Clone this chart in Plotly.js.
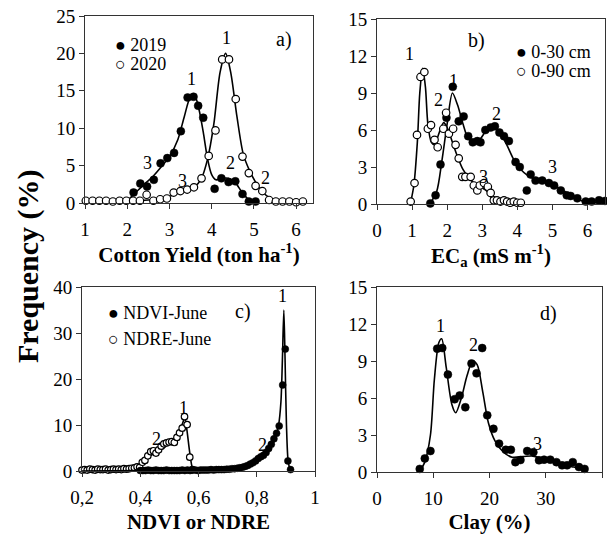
<!DOCTYPE html>
<html>
<head>
<meta charset="utf-8">
<script src="https://cdn.plot.ly/plotly-3.0.1.min.js"></script>
<style>html,body{margin:0;padding:0;background:#fff;}#chart{width:607px;height:534px;}</style>
</head>
<body>
<div id="chart"></div>
<script>
// ---------- Panel a: Cotton yield ----------
const yield2019X = [2.15,2.31,2.47,2.63,2.79,2.95,3.11,3.27,3.43,3.57,3.68,3.80,4.07,4.23,4.40,4.56,4.73,4.88,5.04];
const yield2019Y = [1.4,2.6,2.2,3.1,5.3,6.0,6.7,9.6,14.1,14.2,13.0,11.4,1.9,3.3,2.8,2.9,1.2,0.2,0.2];
const yield2020X = [1.02,1.18,1.34,1.50,1.66,1.82,1.98,2.14,2.30,2.46,2.62,2.78,2.94,3.10,3.26,3.42,3.58,3.76,3.93,4.09,4.25,4.41,4.57,4.73,4.88,5.04,5.20,5.36,5.52,5.68,5.84,6.00,6.16];
const yield2020Y = [0.3,0.3,0.3,0.3,0.2,0.3,0.3,0.3,0.3,1.1,0.3,0.5,0.6,1.4,1.6,1.8,2.1,3.3,6.3,9.7,19.2,19.2,13.9,6.2,4.0,2.3,1.6,0.4,0.2,0.2,0.2,0.1,0.2];
const fit2019X = [2.0,2.2,2.4,2.6,2.8,3.0,3.2,3.35,3.5,3.6,3.7,3.8,3.9,4.0,4.1,4.25,4.4,4.55,4.7,4.85,5.0];
const fit2019Y = [0.3,1.4,2.5,3.5,4.8,6.2,8.5,11.5,14.2,14.3,12.5,9.5,6.0,3.8,3.1,3.3,3.3,2.8,1.6,0.6,0.1];
const fit2020X = [1.0,1.5,2.0,2.5,2.8,3.0,3.2,3.4,3.6,3.75,3.9,4.05,4.2,4.33,4.45,4.6,4.75,4.9,5.05,5.2,5.4,5.6,5.9,6.2];
const fit2020Y = [0.3,0.3,0.3,0.4,0.6,0.9,1.3,1.6,2.2,3.2,5.8,10.5,17.5,20.0,17.5,11.5,6.5,4.3,2.7,1.5,0.6,0.3,0.2,0.2];

// ---------- Panel b: ECa ----------
const ec30X = [1.52,1.67,1.81,1.98,2.16,2.33,2.47,2.60,2.73,2.86,2.95,3.09,3.24,3.36,3.49,3.62,3.76,3.95,4.07,4.27,4.38,4.52,4.71,4.90,5.05,5.24,5.41,5.52,5.71,5.95,6.12,6.33,6.50];
const ec30Y = [0.05,0.7,3.2,7.0,9.5,6.7,7.1,5.5,5.0,5.1,5.0,6.0,6.2,6.3,5.8,5.5,5.1,3.4,3.0,1.1,2.4,1.9,1.9,1.7,1.5,1.1,0.7,0.65,0.46,0.2,0.2,0.3,0.25];
const ec90X = [0.96,1.07,1.14,1.24,1.35,1.45,1.54,1.64,1.73,1.89,1.97,2.05,2.17,2.24,2.33,2.43,2.52,2.67,2.76,2.86,2.93,3.05,3.16,3.24,3.33,3.42,3.52,3.62,3.71,3.80,3.90,4.00,4.10];
const ec90Y = [0.2,1.7,5.6,10.3,10.7,6.1,6.4,5.2,4.6,6.1,7.4,5.7,6.1,4.8,3.7,2.2,2.2,2.2,1.5,1.1,1.5,1.7,1.4,0.9,0.3,0.3,0.2,0.3,0.2,0.1,0.2,0.1,0.1];
const fit30X = [1.5,1.7,1.85,2.0,2.15,2.3,2.45,2.6,2.75,2.95,3.1,3.3,3.5,3.7,3.9,4.1,4.3,4.5,4.8,5.0,5.3,5.6,5.9,6.2,6.5];
const fit30Y = [0.0,1.0,3.5,6.5,9.0,8.0,6.5,5.3,5.0,5.3,5.9,6.3,5.8,4.8,3.6,2.8,2.3,2.0,1.8,1.6,1.1,0.6,0.2,0.1,0.1];
const fit90X = [0.95,1.05,1.15,1.22,1.3,1.38,1.45,1.55,1.65,1.75,1.9,2.0,2.15,2.3,2.45,2.6,2.8,3.0,3.15,3.3,3.5];
const fit90Y = [0.0,1.5,5.0,9.0,11.0,9.5,6.5,5.0,4.8,5.6,6.6,6.2,5.0,3.8,2.8,2.2,1.6,1.3,1.0,0.3,0.0];

// ---------- Panel c: NDVI / NDRE ----------
const ndviX = [0.400,0.409,0.418,0.427,0.436,0.445,0.454,0.463,0.472,0.481,0.490,0.499,0.508,0.517,0.526,0.535,0.544,0.553,0.562,0.571,0.580,0.589,0.598,0.607,0.616,0.625,0.634,0.643,0.652,0.661,0.670,0.679,0.688,0.697,0.706,0.715,0.724,0.733,0.742,0.751,0.760,0.769,0.778,0.787,0.796,0.805,0.814,0.823,0.832,0.841,0.850,0.859,0.868,0.877,0.889,0.898,0.907,0.916];
const ndviY = [0.1,0.1,0.1,0.2,0.1,0.1,0.2,0.1,0.1,0.1,0.2,0.1,0.1,0.1,0.1,0.1,0.2,0.1,0.2,0.1,0.2,0.2,0.1,0.2,0.2,0.2,0.2,0.3,0.2,0.3,0.3,0.3,0.3,0.4,0.4,0.5,0.5,0.6,0.7,0.8,1.0,1.2,1.5,1.8,2.2,2.7,3.1,3.4,4.0,4.9,5.8,7.0,8.2,9.8,18.7,26.5,2.2,0.3];
const ndreX = [0.200,0.209,0.218,0.227,0.236,0.245,0.254,0.263,0.272,0.281,0.290,0.299,0.308,0.317,0.326,0.335,0.344,0.353,0.362,0.371,0.380,0.389,0.398,0.407,0.416,0.426,0.436,0.445,0.454,0.463,0.472,0.481,0.490,0.499,0.508,0.517,0.526,0.535,0.544,0.552,0.561,0.570,0.579];
const ndreY = [0.2,0.3,0.2,0.4,0.3,0.2,0.4,0.3,0.3,0.4,0.2,0.3,0.4,0.3,0.4,0.3,0.5,0.4,0.5,0.6,0.7,0.9,0.8,1.9,2.3,3.3,4.2,4.4,3.9,4.6,5.4,5.9,6.1,6.3,6.4,6.2,7.3,8.3,9.3,11.8,10.1,3.0,0.3];
const fitNdviX = [0.2,0.4,0.6,0.7,0.75,0.8,0.83,0.86,0.875,0.883,0.888,0.893,0.897,0.902,0.908,0.915];
const fitNdviY = [0.0,0.1,0.2,0.4,0.8,2.0,3.5,6.5,10.0,15.0,24.0,35.0,25.0,10.0,2.0,0.2];
const fitNdreX = [0.2,0.3,0.38,0.4,0.42,0.45,0.48,0.5,0.52,0.54,0.553,0.56,0.57,0.58,0.59];
const fitNdreY = [0.2,0.3,0.4,1.2,2.5,4.0,5.0,6.0,7.3,9.5,11.5,9.0,4.0,0.5,0.0];

// ---------- Panel d: Clay ----------
const clayX = [7.6,8.5,9.5,10.7,11.6,12.6,13.8,14.7,15.7,16.8,17.7,18.7,19.6,20.7,21.7,22.9,23.8,24.6,25.5,26.7,27.8,28.8,29.7,30.8,31.9,32.9,33.8,34.8,35.9,36.9];
const clayY = [0.25,1.1,1.7,10.0,10.05,7.9,5.9,6.2,5.25,8.8,8.0,10.05,4.6,3.5,2.3,1.8,1.8,0.8,0.97,1.7,1.6,0.95,1.0,1.0,0.8,0.54,0.54,0.8,0.4,0.25];
const fitClayX = [7.5,8.5,9.5,10.2,11.0,11.5,12.3,13.3,14.0,15.0,16.0,17.0,17.8,18.8,19.8,21.0,22.5,24.0,26.0,27.5,29.0,31.0,33.0,35.0,36.5];
const fitClayY = [0.0,0.8,3.0,7.5,10.5,10.8,8.5,5.5,4.8,6.0,7.8,9.0,8.7,6.5,4.0,2.5,1.6,1.2,1.25,1.3,1.15,0.9,0.6,0.4,0.25];

// ---------- Tick / label text ----------
const xTitles = ['<b>Cotton Yield (ton ha<sup>-1</sup>)</b>','<b>EC<sub>a</sub> (mS m<sup>-1</sup>)</b>','<b>NDVI or NDRE</b>','<b>Clay (%)</b>'];
const yTitle = '<b>Frequency (%)</b>';
const panelTags = ['a)','b)','c)','d)'];
const seriesNames = ['2019','2020','0-30 cm','0-90 cm','NDVI-June','NDRE-June'];
// peak labels: [axis suffix, x, y, text]
const peakLabels = [
  ['',3.52,16.6,'1'],['',4.34,22.1,'1'],['',4.44,5.4,'2'],['',5.27,3.3,'2'],['',2.47,5.3,'3'],['',3.32,2.9,'3'],
  ['2',0.92,12.2,'1'],['2',2.18,10.0,'1'],['2',1.75,8.4,'2'],['2',3.41,7.3,'2'],['2',3.04,2.2,'3'],['2',5.01,3.0,'3'],
  ['3',0.89,38.0,'1'],['3',0.55,13.7,'1'],['3',0.457,7.0,'2'],['3',0.82,5.7,'2'],
  ['4',11.3,11.8,'1'],['4',17.1,10.3,'2'],['4',28.5,2.3,'3']
];

const W = 607, H = 534;
const FONT = '"Liberation Serif"';
const px = v => v / W;
const py = v => 1 - v / H;

function lineTrace(x, y, ax) {
  return {x, y, type:'scatter', mode:'lines', line:{color:'#000', width:1.6, shape:'spline', smoothing:0.8},
          xaxis:'x'+ax, yaxis:'y'+ax, showlegend:false, hoverinfo:'skip', cliponaxis:false};
}
function filledTrace(x, y, ax, name, size) {
  return {x, y, name, type:'scatter', mode:'markers', marker:{color:'#000', size:size||8, line:{color:'#000', width:0.5}},
          xaxis:'x'+ax, yaxis:'y'+ax, showlegend:false, cliponaxis:false};
}
function openTrace(x, y, ax, name, size) {
  return {x, y, name, type:'scatter', mode:'markers', marker:{color:'#fff', size:size||7.5, line:{color:'#000', width:1.2}},
          xaxis:'x'+ax, yaxis:'y'+ax, showlegend:false, cliponaxis:false};
}

const data = [
  lineTrace(fit2020X, fit2020Y, ''), lineTrace(fit2019X, fit2019Y, ''),
  filledTrace(yield2019X, yield2019Y, '', seriesNames[0]), openTrace(yield2020X, yield2020Y, '', seriesNames[1]),
  lineTrace(fit30X, fit30Y, '2'), lineTrace(fit90X, fit90Y, '2'),
  filledTrace(ec30X, ec30Y, '2', seriesNames[2]), openTrace(ec90X, ec90Y, '2', seriesNames[3]),
  lineTrace(fitNdreX, fitNdreY, '3'),
  openTrace(ndreX, ndreY, '3', seriesNames[5], 6.5),
  filledTrace(ndviX, ndviY, '3', seriesNames[4], 7),
  lineTrace(fitNdviX, fitNdviY, '3'),
  lineTrace(fitClayX, fitClayY, '4'),
  filledTrace(clayX, clayY, '4', 'Clay')
];

function axis(extra) {
  return Object.assign({
    showline:true, mirror:true, linecolor:'#333', linewidth:1,
    ticks:'outside', ticklen:5, tickcolor:'#333', tickwidth:1,
    showgrid:false, zeroline:false, automargin:false,
    tickfont:{family:FONT, size:19, color:'#000'}
  }, extra);
}
function xTitle(t) { return {text:t, font:{family:FONT, size:21, color:'#000'}, standoff:8}; }

const layout = {
  width:W, height:H, margin:{l:0, r:0, t:0, b:0},
  paper_bgcolor:'#fff', plot_bgcolor:'#fff', showlegend:false,
  separators:', ',
  font:{family:FONT, color:'#000'},
  xaxis: axis({domain:[px(85),px(313)], range:[1,6.4], dtick:1, tick0:1, anchor:'y', ticklabelstandoff:4, title:xTitle(xTitles[0])}),
  yaxis: axis({domain:[py(203),py(16)], range:[0,25], dtick:5, anchor:'x'}),
  xaxis2: axis({domain:[px(377),px(605)], range:[0,6.5], dtick:1, tick0:0, anchor:'y2', ticklabelstandoff:4, title:xTitle(xTitles[1])}),
  yaxis2: axis({domain:[py(204),py(19)], range:[0,15], dtick:3, anchor:'x2'}),
  xaxis3: axis({domain:[px(82),px(315)], range:[0.2,1], dtick:0.2, tick0:0.2, anchor:'y3', ticklabelstandoff:4, title:xTitle(xTitles[2])}),
  yaxis3: axis({domain:[py(471),py(287)], range:[0,40], dtick:10, anchor:'x3'}),
  xaxis4: axis({domain:[px(377),px(602)], range:[0,40], dtick:10, tick0:0, anchor:'y4', ticklabelstandoff:4, title:xTitle(xTitles[3])}),
  yaxis4: axis({domain:[py(472),py(287)], range:[0,15], dtick:3, anchor:'x4'}),
  annotations: []
};

// shared y title
layout.annotations.push({text:yTitle, xref:'paper', yref:'paper', x:px(28), y:py(266), textangle:-90,
  showarrow:false, font:{family:FONT, size:30, color:'#000'}, xanchor:'center', yanchor:'middle'});

// panel tags
const tagPos = [[284,40],[476,41],[243,311],[548,313]];
panelTags.forEach((t,i) => layout.annotations.push({text:t, xref:'paper', yref:'paper', x:px(tagPos[i][0]), y:py(tagPos[i][1]),
  showarrow:false, font:{family:FONT, size:20, color:'#000'}, xanchor:'center', yanchor:'middle'}));

// legends (marker glyph + series name)
const legPos = [[113,45,'●',0],[113,64,'○',1],[514,52,'●',2],[514,71,'○',3],[106,313,'●',4],[106,339,'○',5]];
legPos.forEach(p => layout.annotations.push({
  text:p[2]+' '+seriesNames[p[3]],
  xref:'paper', yref:'paper', x:px(p[0]), y:py(p[1]), showarrow:false, xanchor:'left', yanchor:'middle',
  font:{family:FONT, size:18, color:'#000'}
}));

// peak labels
peakLabels.forEach(p => layout.annotations.push({text:p[3], xref:'x'+p[0], yref:'y'+p[0], x:p[1], y:p[2],
  showarrow:false, font:{family:FONT, size:18, color:'#000'}, xanchor:'center', yanchor:'middle'}));

Plotly.newPlot('chart', data, layout, {staticPlot:true, displayModeBar:false});
</script>
</body>
</html>
